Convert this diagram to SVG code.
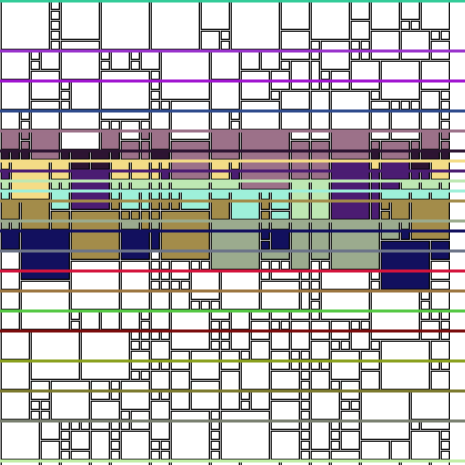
<svg xmlns="http://www.w3.org/2000/svg" width="465" height="465" viewBox="0 0 465 465">
<style>
.m{fill:#9c7189}.p{fill:#2d1432}.y{fill:#f4dc86}.d{fill:#4b1c72}.g{fill:#bee8b3}.a{fill:#9ef0da}.o{fill:#a38c4a}.s{fill:#9bab8e}.n{fill:#12105e}
</style>
<rect width="465" height="465" fill="#fff"/>
<g id="blocks" transform="translate(1.2 1.2) scale(10)" fill="#fff" stroke="#000" stroke-width=".12">
<rect x="0" y="0" width="4.81" height="4.81"/>
<rect x="5" y="0" width=".81" height=".81"/>
<rect x="5" y="1" width=".81" height=".81"/>
<rect x="5" y="2" width=".81" height=".81"/>
<rect x="5" y="3" width=".81" height=".81"/>
<rect x="5" y="4" width=".81" height=".81"/>
<rect x="6" y="0" width="3.81" height="3.81"/>
<rect x="6" y="4" width="3.81" height=".81"/>
<rect x="10" y="0" width="4.81" height="4.81"/>
<rect x="0" y="5" width="2.81" height="2.81"/>
<rect x="3" y="5" width=".81" height=".81"/>
<rect x="3" y="6" width=".81" height=".81"/>
<rect x="4" y="5" width="1.81" height="1.81"/>
<rect x="6" y="5" width="3.81" height="2.81"/>
<rect x="10" y="5" width=".81" height=".81"/>
<rect x="10" y="6" width=".81" height=".81"/>
<rect x="11" y="5" width="1.81" height="1.81"/>
<rect x="13" y="5" width=".81" height=".81"/>
<rect x="13" y="6" width=".81" height=".81"/>
<rect x="14" y="5" width="1.81" height="1.81"/>
<rect x="3" y="7" width="2.81" height="2.81"/>
<rect x="10" y="7" width="4.81" height="3.81"/>
<rect x="15" y="7" width=".81" height=".81"/>
<rect x="15" y="8" width=".81" height=".81"/>
<rect x="15" y="9" width=".81" height=".81"/>
<rect x="15" y="10" width=".81" height=".81"/>
<rect x="0" y="8" width="2.81" height="2.81"/>
<rect x="6" y="8" width=".81" height=".81"/>
<rect x="6" y="9" width=".81" height=".81"/>
<rect x="6" y="10" width=".81" height=".81"/>
<rect x="7" y="8" width="2.81" height="2.81"/>
<rect x="3" y="10" width="2.81" height=".81"/>
<rect x="0" y="11" width="1.81" height="1.81"/>
<rect x="2" y="11" width=".81" height=".81"/>
<rect x="2" y="12" width=".81" height=".81"/>
<rect x="3" y="11" width="2.81" height="1.81"/>
<rect x="6" y="11" width="3.81" height="1.81"/>
<rect x="10" y="11" width="4.81" height=".81"/>
<rect x="10" y="12" width=".81" height=".81"/>
<rect x="11" y="12" width=".81" height=".81"/>
<rect x="12" y="12" width="1.81" height="1.81"/>
<rect x="14" y="12" width=".81" height=".81"/>
<rect x="6" y="13" width="3.81" height="1.81"/>
<rect x="15" y="0" width="4.81" height="4.81"/>
<rect x="20" y="0" width="2.81" height="2.81"/>
<rect x="20" y="3" width="1.81" height="1.81"/>
<rect x="22" y="3" width=".81" height=".81"/>
<rect x="22" y="4" width=".81" height=".81"/>
<rect x="23" y="0" width="4.81" height="4.81"/>
<rect x="28" y="0" width="2.81" height="2.81"/>
<rect x="28" y="3" width="2.81" height="1.81"/>
<rect x="16" y="5" width="4.81" height="4.81"/>
<rect x="16" y="10" width=".81" height=".81"/>
<rect x="17" y="10" width="3.81" height="3.81"/>
<rect x="15" y="11" width="1.81" height="1.81"/>
<rect x="21" y="5" width="2.81" height="2.81"/>
<rect x="21" y="8" width="2.81" height="2.81"/>
<rect x="21" y="11" width="1.81" height="1.81"/>
<rect x="23" y="11" width=".81" height=".81"/>
<rect x="23" y="12" width=".81" height=".81"/>
<rect x="24" y="5" width="1.81" height="1.81"/>
<rect x="26" y="5" width="1.81" height="1.81"/>
<rect x="28" y="5" width="2.81" height=".81"/>
<rect x="28" y="6" width=".81" height=".81"/>
<rect x="29" y="6" width="1.81" height="2.81"/>
<rect x="24" y="7" width="2.81" height="2.81"/>
<rect x="27" y="7" width="1.81" height="1.81"/>
<rect x="27" y="9" width=".81" height=".81"/>
<rect x="28" y="9" width="2.81" height="1.81"/>
<rect x="24" y="10" width="3.81" height="2.81"/>
<rect x="28" y="11" width="2.81" height="1.81"/>
<rect x="29" y="13" width="1.81" height=".81"/>
<rect x="31" y="0" width="3.81" height="3.81"/>
<rect x="31" y="4" width=".81" height=".81"/>
<rect x="35" y="0" width="1.81" height="1.81"/>
<rect x="35" y="2" width="1.81" height="1.81"/>
<rect x="35" y="4" width=".81" height=".81"/>
<rect x="36" y="4" width=".81" height=".81"/>
<rect x="37" y="0" width="2.81" height="2.81"/>
<rect x="40" y="0" width="1.81" height="1.81"/>
<rect x="40" y="2" width=".81" height=".81"/>
<rect x="41" y="2" width=".81" height=".81"/>
<rect x="42" y="0" width="2.81" height="2.81"/>
<rect x="37" y="3" width="2.81" height="2.81"/>
<rect x="40" y="3" width="2.81" height="2.81"/>
<rect x="43" y="3" width=".81" height=".81"/>
<rect x="44" y="3" width=".81" height=".81"/>
<rect x="43" y="4" width="1.81" height="1.81"/>
<rect x="32" y="4" width="2.81" height="2.81"/>
<rect x="35" y="5" width=".81" height=".81"/>
<rect x="36" y="5" width=".81" height=".81"/>
<rect x="31" y="5" width=".81" height=".81"/>
<rect x="31" y="6" width=".81" height="2.81"/>
<rect x="32" y="7" width=".81" height=".81"/>
<rect x="32" y="8" width=".81" height=".81"/>
<rect x="33" y="7" width="1.81" height="1.81"/>
<rect x="35" y="6" width="2.81" height="2.81"/>
<rect x="38" y="6" width="3.81" height="3.81"/>
<rect x="42" y="6" width="2.81" height="2.81"/>
<rect x="37" y="9" width=".81" height=".81"/>
<rect x="37" y="10" width="1.81" height=".81"/>
<rect x="39" y="10" width=".81" height=".81"/>
<rect x="40" y="10" width=".81" height=".81"/>
<rect x="41" y="10" width=".81" height=".81"/>
<rect x="42" y="9" width="1.81" height="1.81"/>
<rect x="44" y="9" width=".81" height=".81"/>
<rect x="44" y="10" width=".81" height=".81"/>
<rect x="31" y="9" width="1.81" height="3.81"/>
<rect x="33" y="9" width="3.81" height="3.81"/>
<rect x="37" y="11" width="1.81" height="1.81"/>
<rect x="39" y="11" width="2.81" height="1.81"/>
<rect x="42" y="11" width="1.81" height="1.81"/>
<rect x="44" y="11" width=".81" height=".81"/>
<rect x="44" y="12" width=".81" height=".81"/>
<rect x="31" y="13" width="1.81" height=".81"/>
<rect x="37" y="13" width="1.81" height=".81"/>
<rect x="39" y="13" width="2.81" height=".81"/>
<rect x="0" y="25" width="1.81" height="1.81"/>
<rect x="0" y="27" width="1.81" height="1.81"/>
<rect x="0" y="29" width="1.81" height="1.81"/>
<rect x="0" y="31" width="1.81" height="1.81"/>
<rect x="2" y="28" width="4.81" height="4.81"/>
<rect x="7" y="26" width="4.81" height="4.81"/>
<rect x="12" y="26" width="2.81" height="4.81"/>
<rect x="15" y="25" width=".81" height=".81"/>
<rect x="15" y="26" width=".81" height=".81"/>
<rect x="16" y="26" width=".81" height=".81"/>
<rect x="15" y="27" width=".81" height=".81"/>
<rect x="16" y="27" width=".81" height=".81"/>
<rect x="15" y="28" width=".81" height=".81"/>
<rect x="16" y="28" width=".81" height=".81"/>
<rect x="15" y="29" width="1.81" height="1.81"/>
<rect x="7" y="31" width=".81" height=".81"/>
<rect x="7" y="32" width=".81" height=".81"/>
<rect x="8" y="31" width="1.81" height="1.81"/>
<rect x="10" y="31" width="1.81" height="1.81"/>
<rect x="12" y="31" width="1.81" height="1.81"/>
<rect x="14" y="31" width=".81" height=".81"/>
<rect x="14" y="32" width=".81" height=".81"/>
<rect x="15" y="31" width="1.81" height="1.81"/>
<rect x="0" y="33" width="2.81" height="2.81"/>
<rect x="3" y="33" width="4.81" height="4.81"/>
<rect x="8" y="33" width="4.81" height="4.81"/>
<rect x="13" y="33" width=".81" height=".81"/>
<rect x="14" y="33" width=".81" height=".81"/>
<rect x="13" y="34" width=".81" height=".81"/>
<rect x="14" y="34" width=".81" height=".81"/>
<rect x="13" y="35" width="1.81" height="1.81"/>
<rect x="13" y="37" width=".81" height=".81"/>
<rect x="14" y="37" width=".81" height=".81"/>
<rect x="0" y="36" width="2.81" height="2.81"/>
<rect x="3" y="38" width="1.81" height="1.81"/>
<rect x="5" y="38" width="3.81" height="3.81"/>
<rect x="9" y="38" width="1.81" height="1.81"/>
<rect x="11" y="38" width=".81" height=".81"/>
<rect x="11" y="39" width=".81" height=".81"/>
<rect x="12" y="38" width="2.81" height="2.81"/>
<rect x="0" y="39" width="2.81" height="2.81"/>
<rect x="3" y="40" width=".81" height=".81"/>
<rect x="4" y="40" width=".81" height=".81"/>
<rect x="3" y="41" width=".81" height=".81"/>
<rect x="4" y="41" width=".81" height=".81"/>
<rect x="9" y="40" width="2.81" height="1.81"/>
<rect x="12" y="41" width=".81" height=".81"/>
<rect x="13" y="41" width="1.81" height="1.81"/>
<rect x="0" y="42" width="3.81" height="3.81"/>
<rect x="4" y="42" width="1.81" height="1.81"/>
<rect x="4" y="44" width="1.81" height="1.81"/>
<rect x="6" y="42" width=".81" height=".81"/>
<rect x="6" y="43" width=".81" height=".81"/>
<rect x="6" y="44" width=".81" height=".81"/>
<rect x="6" y="45" width=".81" height=".81"/>
<rect x="7" y="42" width=".81" height=".81"/>
<rect x="8" y="42" width=".81" height=".81"/>
<rect x="7" y="43" width="1.81" height="1.81"/>
<rect x="7" y="45" width="1.81" height=".81"/>
<rect x="9" y="42" width="1.81" height=".81"/>
<rect x="9" y="43" width="1.81" height="2.81"/>
<rect x="11" y="42" width=".81" height=".81"/>
<rect x="11" y="43" width=".81" height=".81"/>
<rect x="11" y="44" width=".81" height=".81"/>
<rect x="11" y="45" width=".81" height=".81"/>
<rect x="12" y="42" width=".81" height=".81"/>
<rect x="12" y="43" width="2.81" height="2.81"/>
<rect x="0" y="46" width="3.81" height=".81"/>
<rect x="4" y="46" width="1.81" height=".81"/>
<rect x="6" y="46" width="2.81" height=".81"/>
<rect x="9" y="46" width="1.81" height=".81"/>
<rect x="11" y="46" width="3.81" height=".81"/>
<rect x="17" y="26" width="1.81" height="1.81"/>
<rect x="19" y="26" width=".81" height=".81"/>
<rect x="20" y="26" width=".81" height=".81"/>
<rect x="26" y="26" width=".81" height=".81"/>
<rect x="27" y="26" width=".81" height=".81"/>
<rect x="28" y="26" width=".81" height=".81"/>
<rect x="19" y="27" width="2.81" height="2.81"/>
<rect x="22" y="27" width="3.81" height="3.81"/>
<rect x="26" y="27" width=".81" height=".81"/>
<rect x="27" y="27" width="2.81" height=".81"/>
<rect x="30" y="27" width=".81" height=".81"/>
<rect x="17" y="28" width=".81" height=".81"/>
<rect x="18" y="28" width=".81" height=".81"/>
<rect x="26" y="28" width="3.81" height="2.81"/>
<rect x="30" y="28" width=".81" height=".81"/>
<rect x="30" y="29" width=".81" height="1.81"/>
<rect x="17" y="29" width="1.81" height="1.81"/>
<rect x="19" y="30" width=".81" height=".81"/>
<rect x="20" y="30" width=".81" height=".81"/>
<rect x="21" y="30" width=".81" height=".81"/>
<rect x="15" y="33" width=".81" height=".81"/>
<rect x="16" y="33" width=".81" height=".81"/>
<rect x="15" y="34" width="1.81" height="1.81"/>
<rect x="15" y="36" width=".81" height=".81"/>
<rect x="16" y="36" width=".81" height=".81"/>
<rect x="15" y="37" width="1.81" height="1.81"/>
<rect x="15" y="39" width=".81" height=".81"/>
<rect x="16" y="39" width=".81" height=".81"/>
<rect x="15" y="40" width="1.81" height="1.81"/>
<rect x="15" y="42" width="1.81" height="1.81"/>
<rect x="15" y="44" width=".81" height=".81"/>
<rect x="16" y="44" width=".81" height=".81"/>
<rect x="15" y="45" width=".81" height=".81"/>
<rect x="16" y="45" width=".81" height=".81"/>
<rect x="17" y="31" width="3.81" height="3.81"/>
<rect x="21" y="31" width="1.81" height=".81"/>
<rect x="21" y="32" width=".81" height=".81"/>
<rect x="22" y="32" width=".81" height=".81"/>
<rect x="21" y="33" width=".81" height=".81"/>
<rect x="22" y="33" width=".81" height=".81"/>
<rect x="21" y="34" width=".81" height=".81"/>
<rect x="22" y="34" width=".81" height=".81"/>
<rect x="23" y="31" width="1.81" height="1.81"/>
<rect x="25" y="31" width="1.81" height=".81"/>
<rect x="25" y="32" width="1.81" height="1.81"/>
<rect x="27" y="31" width="1.81" height=".81"/>
<rect x="27" y="32" width=".81" height=".81"/>
<rect x="28" y="32" width=".81" height=".81"/>
<rect x="29" y="31" width="1.81" height=".81"/>
<rect x="29" y="32" width="1.81" height="2.81"/>
<rect x="23" y="33" width="1.81" height="1.81"/>
<rect x="27" y="33" width="1.81" height="1.81"/>
<rect x="25" y="34" width="1.81" height="1.81"/>
<rect x="24" y="35" width=".81" height=".81"/>
<rect x="17" y="35" width="1.81" height="1.81"/>
<rect x="19" y="35" width="2.81" height="2.81"/>
<rect x="22" y="35" width="1.81" height="1.81"/>
<rect x="24" y="36" width="2.81" height="2.81"/>
<rect x="27" y="35" width="1.81" height="1.81"/>
<rect x="29" y="35" width=".81" height=".81"/>
<rect x="30" y="35" width=".81" height=".81"/>
<rect x="29" y="36" width=".81" height=".81"/>
<rect x="30" y="36" width=".81" height=".81"/>
<rect x="17" y="37" width="1.81" height="1.81"/>
<rect x="22" y="37" width="1.81" height="3.81"/>
<rect x="27" y="37" width="2.81" height="1.81"/>
<rect x="30" y="37" width=".81" height=".81"/>
<rect x="30" y="38" width=".81" height=".81"/>
<rect x="19" y="38" width="2.81" height="2.81"/>
<rect x="17" y="39" width="1.81" height="1.81"/>
<rect x="24" y="39" width=".81" height=".81"/>
<rect x="24" y="40" width=".81" height=".81"/>
<rect x="25" y="39" width="1.81" height="1.81"/>
<rect x="27" y="39" width="2.81" height=".81"/>
<rect x="30" y="39" width=".81" height=".81"/>
<rect x="27" y="40" width="2.81" height="2.81"/>
<rect x="30" y="40" width=".81" height=".81"/>
<rect x="30" y="41" width=".81" height=".81"/>
<rect x="30" y="42" width=".81" height=".81"/>
<rect x="17" y="41" width="3.81" height="4.81"/>
<rect x="21" y="41" width=".81" height=".81"/>
<rect x="21" y="42" width=".81" height=".81"/>
<rect x="21" y="43" width=".81" height=".81"/>
<rect x="21" y="44" width=".81" height=".81"/>
<rect x="21" y="45" width=".81" height=".81"/>
<rect x="22" y="41" width="4.81" height="4.81"/>
<rect x="27" y="43" width="2.81" height="2.81"/>
<rect x="30" y="43" width=".81" height=".81"/>
<rect x="30" y="44" width=".81" height=".81"/>
<rect x="30" y="45" width=".81" height=".81"/>
<rect x="15" y="46" width="1.81" height=".81"/>
<rect x="17" y="46" width="3.81" height=".81"/>
<rect x="21" y="46" width="2.81" height=".81"/>
<rect x="24" y="46" width="3.81" height=".81"/>
<rect x="28" y="46" width="2.81" height=".81"/>
<rect x="31" y="26" width=".81" height="1.81"/>
<rect x="32" y="26" width=".81" height=".81"/>
<rect x="32" y="27" width="4.81" height="1.81"/>
<rect x="37" y="27" width=".81" height=".81"/>
<rect x="37" y="28" width=".81" height=".81"/>
<rect x="43" y="26" width="1.81" height="1.81"/>
<rect x="43" y="28" width="1.81" height=".81"/>
<rect x="31" y="28" width=".81" height=".81"/>
<rect x="31" y="29" width=".81" height=".81"/>
<rect x="31" y="30" width=".81" height=".81"/>
<rect x="31" y="31" width=".81" height=".81"/>
<rect x="32" y="29" width="4.81" height="2.81"/>
<rect x="37" y="29" width="4.81" height="4.81"/>
<rect x="42" y="29" width=".81" height=".81"/>
<rect x="42" y="30" width=".81" height=".81"/>
<rect x="42" y="31" width=".81" height=".81"/>
<rect x="43" y="29" width="1.81" height="1.81"/>
<rect x="43" y="31" width=".81" height=".81"/>
<rect x="44" y="31" width=".81" height=".81"/>
<rect x="42" y="32" width="1.81" height="1.81"/>
<rect x="44" y="32" width=".81" height=".81"/>
<rect x="44" y="33" width=".81" height=".81"/>
<rect x="31" y="32" width="1.81" height="1.81"/>
<rect x="33" y="32" width="1.81" height="1.81"/>
<rect x="35" y="32" width=".81" height=".81"/>
<rect x="36" y="32" width=".81" height=".81"/>
<rect x="35" y="33" width="1.81" height="1.81"/>
<rect x="31" y="34" width="1.81" height="1.81"/>
<rect x="33" y="34" width=".81" height=".81"/>
<rect x="34" y="34" width=".81" height=".81"/>
<rect x="37" y="34" width=".81" height=".81"/>
<rect x="38" y="34" width="4.81" height="4.81"/>
<rect x="43" y="34" width="1.81" height="1.81"/>
<rect x="33" y="35" width="2.81" height="2.81"/>
<rect x="36" y="35" width="1.81" height="1.81"/>
<rect x="31" y="36" width=".81" height=".81"/>
<rect x="32" y="36" width=".81" height=".81"/>
<rect x="31" y="37" width="1.81" height="1.81"/>
<rect x="36" y="37" width="1.81" height="1.81"/>
<rect x="33" y="38" width=".81" height=".81"/>
<rect x="34" y="38" width="1.81" height="1.81"/>
<rect x="43" y="36" width=".81" height=".81"/>
<rect x="44" y="36" width=".81" height=".81"/>
<rect x="43" y="37" width="1.81" height="1.81"/>
<rect x="31" y="39" width="2.81" height="2.81"/>
<rect x="34" y="40" width=".81" height=".81"/>
<rect x="35" y="40" width=".81" height=".81"/>
<rect x="34" y="41" width="1.81" height="1.81"/>
<rect x="36" y="39" width="4.81" height="4.81"/>
<rect x="41" y="39" width="3.81" height="2.81"/>
<rect x="41" y="42" width=".81" height=".81"/>
<rect x="42" y="42" width="2.81" height=".81"/>
<rect x="31" y="42" width="1.81" height="2.81"/>
<rect x="33" y="42" width=".81" height=".81"/>
<rect x="33" y="43" width=".81" height=".81"/>
<rect x="34" y="43" width="1.81" height="1.81"/>
<rect x="33" y="44" width=".81" height=".81"/>
<rect x="31" y="45" width="1.81" height=".81"/>
<rect x="33" y="45" width="2.81" height=".81"/>
<rect x="36" y="44" width="2.81" height="1.81"/>
<rect x="39" y="44" width="1.81" height="1.81"/>
<rect x="41" y="43" width="2.81" height="2.81"/>
<rect x="44" y="43" width=".81" height=".81"/>
<rect x="44" y="44" width=".81" height=".81"/>
<rect x="44" y="45" width=".81" height=".81"/>
<rect x="31" y="46" width="1.81" height=".81"/>
<rect x="33" y="46" width="2.81" height=".81"/>
<rect x="36" y="46" width="3.81" height=".81"/>
<rect x="40" y="46" width="2.81" height=".81"/>
<rect x="43" y="46" width="1.81" height=".81"/>
<g class="m">
<rect x="0" y="13" width="1.81" height="1.81"/>
<rect x="2" y="13" width=".81" height=".81"/>
<rect x="2" y="14" width=".81" height=".81"/>
<rect x="3" y="13" width="2.81" height="2.81"/>
<rect x="10" y="13" width="1.81" height="1.81"/>
<rect x="12" y="14" width="1.81" height="1.81"/>
<rect x="14" y="13" width=".81" height=".81"/>
<rect x="14" y="14" width=".81" height="1.81"/>
<rect x="15" y="13" width="1.81" height="1.81"/>
<rect x="17" y="14" width="3.81" height="3.81"/>
<rect x="21" y="13" width="2.81" height="2.81"/>
<rect x="24" y="13" width="4.81" height="5.81"/>
<rect x="29" y="14" width="1.81" height="3.81"/>
<rect x="31" y="14" width="1.81" height="3.81"/>
<rect x="33" y="13" width="3.81" height="2.81"/>
<rect x="37" y="14" width=".81" height=".81"/>
<rect x="38" y="14" width="2.81" height="1.81"/>
<rect x="41" y="14" width=".81" height=".81"/>
<rect x="42" y="13" width="1.81" height="1.81"/>
<rect x="44" y="13" width=".81" height=".81"/>
<rect x="44" y="14" width=".81" height=".81"/>
</g>
<g class="p">
<rect x="0" y="15" width=".81" height=".81"/>
<rect x="1" y="15" width=".81" height=".81"/>
<rect x="2" y="15" width=".81" height=".81"/>
<rect x="6" y="15" width=".81" height=".81"/>
<rect x="7" y="15" width="1.81" height=".81"/>
<rect x="9" y="15" width="1.81" height=".81"/>
<rect x="11" y="15" width=".81" height=".81"/>
<rect x="15" y="15" width="1.81" height=".81"/>
<rect x="7" y="16" width="1.81" height=".81"/>
<rect x="9" y="16" width="1.81" height=".81"/>
<rect x="37" y="15" width=".81" height=".81"/>
<rect x="41" y="15" width=".81" height=".81"/>
<rect x="42" y="15" width="1.81" height=".81"/>
<rect x="44" y="15" width=".81" height=".81"/>
<rect x="41" y="16" width="1.81" height=".81"/>
</g>
<g class="y">
<rect x="0" y="16" width=".81" height=".81"/>
<rect x="1" y="16" width="3.81" height="3.81"/>
<rect x="5" y="16" width="1.81" height="1.81"/>
<rect x="11" y="16" width="1.81" height="1.81"/>
<rect x="13" y="16" width="1.81" height="1.81"/>
<rect x="15" y="16" width=".81" height=".81"/>
<rect x="16" y="16" width=".81" height=".81"/>
<rect x="15" y="17" width=".81" height=".81"/>
<rect x="21" y="16" width="1.81" height="1.81"/>
<rect x="23" y="16" width=".81" height=".81"/>
<rect x="37" y="16" width=".81" height=".81"/>
<rect x="43" y="16" width="1.81" height="1.81"/>
</g>
<g class="d">
<rect x="0" y="17" width=".81" height=".81"/>
<rect x="7" y="17" width="3.81" height="3.81"/>
<rect x="16" y="17" width=".81" height=".81"/>
<rect x="23" y="17" width=".81" height=".81"/>
<rect x="33" y="16" width="3.81" height="5.81"/>
<rect x="37" y="17" width=".81" height="4.81"/>
<rect x="38" y="16" width="2.81" height="1.81"/>
<rect x="41" y="17" width=".81" height=".81"/>
<rect x="42" y="17" width=".81" height=".81"/>
<rect x="38" y="18" width="1.81" height=".81"/>
</g>
<g class="g">
<rect x="0" y="18" width=".81" height=".81"/>
<rect x="5" y="18" width=".81" height=".81"/>
<rect x="6" y="18" width=".81" height=".81"/>
<rect x="11" y="18" width=".81" height=".81"/>
<rect x="12" y="18" width=".81" height=".81"/>
<rect x="13" y="18" width="1.81" height=".81"/>
<rect x="15" y="18" width=".81" height=".81"/>
<rect x="16" y="18" width=".81" height=".81"/>
<rect x="17" y="18" width="3.81" height=".81"/>
<rect x="21" y="18" width="2.81" height=".81"/>
<rect x="29" y="18" width="1.81" height="3.81"/>
<rect x="31" y="18" width="1.81" height="3.81"/>
<rect x="40" y="18" width="1.81" height=".81"/>
<rect x="42" y="18" width="1.81" height=".81"/>
<rect x="44" y="18" width=".81" height=".81"/>
</g>
<g class="a">
<rect x="0" y="19" width=".81" height=".81"/>
<rect x="5" y="19" width="1.81" height="1.81"/>
<rect x="11" y="19" width=".81" height=".81"/>
<rect x="12" y="19" width="1.81" height="1.81"/>
<rect x="14" y="19" width=".81" height="1.81"/>
<rect x="15" y="19" width=".81" height=".81"/>
<rect x="16" y="19" width=".81" height=".81"/>
<rect x="17" y="19" width=".81" height=".81"/>
<rect x="18" y="19" width="2.81" height="1.81"/>
<rect x="21" y="19" width="1.81" height=".81"/>
<rect x="23" y="19" width="2.81" height="2.81"/>
<rect x="26" y="19" width=".81" height=".81"/>
<rect x="27" y="19" width="1.81" height="1.81"/>
<rect x="27" y="21" width="1.81" height=".81"/>
<rect x="38" y="19" width="2.81" height=".81"/>
<rect x="41" y="19" width="1.81" height=".81"/>
<rect x="43" y="19" width="1.81" height=".81"/>
</g>
<g class="o">
<rect x="0" y="20" width="1.81" height="1.81"/>
<rect x="2" y="20" width="2.81" height="2.81"/>
<rect x="5" y="21" width="1.81" height="1.81"/>
<rect x="7" y="21" width="4.81" height="4.81"/>
<rect x="11" y="20" width=".81" height=".81"/>
<rect x="12" y="21" width=".81" height=".81"/>
<rect x="13" y="21" width=".81" height=".81"/>
<rect x="14" y="21" width=".81" height="1.81"/>
<rect x="15" y="20" width=".81" height=".81"/>
<rect x="16" y="20" width=".81" height=".81"/>
<rect x="17" y="20" width=".81" height=".81"/>
<rect x="15" y="21" width=".81" height=".81"/>
<rect x="16" y="21" width="4.81" height="4.81"/>
<rect x="21" y="20" width="1.81" height="1.81"/>
<rect x="26" y="20" width=".81" height=".81"/>
<rect x="26" y="21" width=".81" height=".81"/>
<rect x="38" y="20" width=".81" height=".81"/>
<rect x="39" y="20" width="1.81" height="1.81"/>
<rect x="41" y="20" width="3.81" height="3.81"/>
<rect x="38" y="21" width=".81" height=".81"/>
</g>
<g class="s">
<rect x="0" y="22" width=".81" height=".81"/>
<rect x="1" y="22" width=".81" height=".81"/>
<rect x="12" y="22" width="1.81" height=".81"/>
<rect x="15" y="22" width=".81" height=".81"/>
<rect x="21" y="22" width="4.81" height="4.81"/>
<rect x="26" y="22" width=".81" height=".81"/>
<rect x="27" y="22" width="1.81" height=".81"/>
<rect x="26" y="25" width="2.81" height=".81"/>
<rect x="29" y="22" width="1.81" height="4.81"/>
<rect x="31" y="22" width="1.81" height="3.81"/>
<rect x="33" y="22" width="4.81" height="4.81"/>
<rect x="38" y="22" width="1.81" height="1.81"/>
<rect x="40" y="22" width=".81" height=".81"/>
</g>
<g class="n">
<rect x="0" y="23" width="1.81" height="1.81"/>
<rect x="2" y="23" width="4.81" height="4.81"/>
<rect x="12" y="23" width="2.81" height="2.81"/>
<rect x="15" y="23" width=".81" height="1.81"/>
<rect x="26" y="23" width=".81" height=".81"/>
<rect x="26" y="24" width=".81" height=".81"/>
<rect x="27" y="23" width="1.81" height="1.81"/>
<rect x="40" y="23" width=".81" height=".81"/>
<rect x="38" y="24" width="4.81" height="4.81"/>
<rect x="43" y="24" width="1.81" height="1.81"/>
</g>
</g>
<g id="lines" stroke-width="3">
<line x1="0" y1="1" x2="465" y2="1" stroke="#33cc99"/>
<line x1="0" y1="51" x2="465" y2="51" stroke="#9933cc"/>
<line x1="0" y1="81" x2="465" y2="81" stroke="#a015d0"/>
<line x1="0" y1="111" x2="465" y2="111" stroke="#2e4a8c"/>
<line x1="0" y1="131" x2="465" y2="131" stroke="#9c7189"/>
<line x1="0" y1="151" x2="465" y2="151" stroke="#2d1432"/>
<line x1="0" y1="161" x2="465" y2="161" stroke="#f4dc86"/>
<line x1="0" y1="171" x2="465" y2="171" stroke="#4b1c72"/>
<line x1="0" y1="181" x2="465" y2="181" stroke="#bee8b3"/>
<line x1="0" y1="191" x2="465" y2="191" stroke="#9ef0da"/>
<line x1="0" y1="201" x2="465" y2="201" stroke="#a38c4a"/>
<line x1="0" y1="221" x2="465" y2="221" stroke="#9bab8e"/>
<line x1="0" y1="231" x2="465" y2="231" stroke="#12105e"/>
<line x1="0" y1="251" x2="465" y2="251" stroke="#6c7488"/>
<line x1="0" y1="271" x2="465" y2="271" stroke="#d4143c"/>
<line x1="0" y1="291" x2="465" y2="291" stroke="#9c7640"/>
<line x1="0" y1="311" x2="465" y2="311" stroke="#55c844"/>
<line x1="0" y1="331" x2="465" y2="331" stroke="#7a0c0c"/>
<line x1="0" y1="361" x2="465" y2="361" stroke="#8aa01e"/>
<line x1="0" y1="391" x2="465" y2="391" stroke="#7c7a2e"/>
<line x1="0" y1="421" x2="465" y2="421" stroke="#7a8070"/>
<line x1="0" y1="461" x2="465" y2="461" stroke="#c2eea6"/>
</g>
</svg>
